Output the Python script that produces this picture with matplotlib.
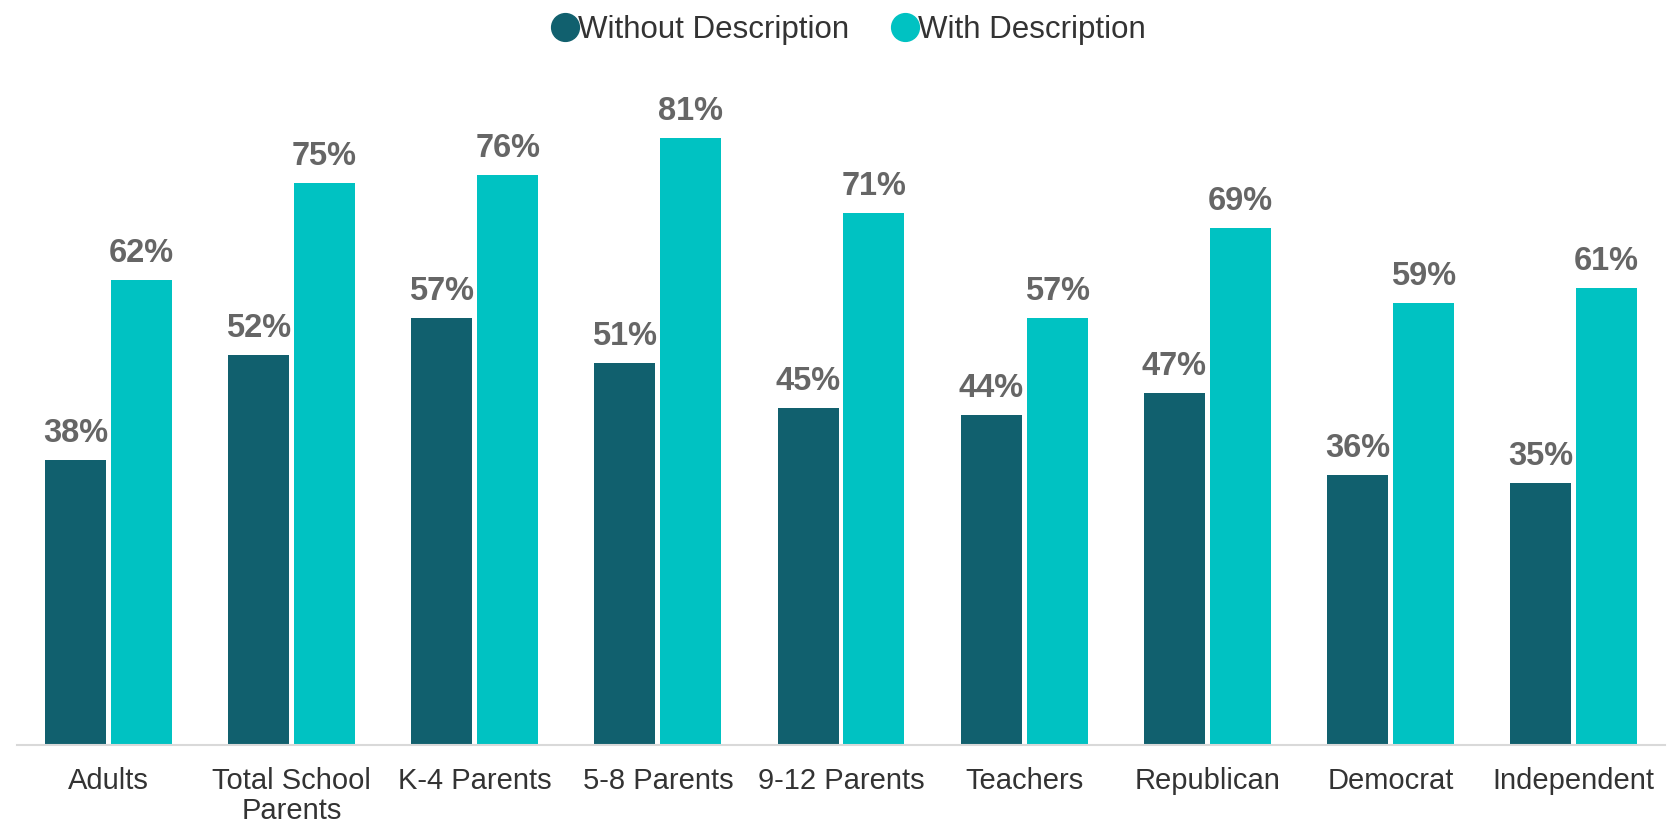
import numpy as np
import matplotlib
matplotlib.use("Agg")
import matplotlib.pyplot as plt
from matplotlib.lines import Line2D

plt.rcParams['font.family'] = ['Liberation Sans', 'DejaVu Sans']

# data
groups = ['Adults', 'Total School\nParents', 'K-4 Parents', '5-8 Parents', '9-12 Parents',
          'Teachers', 'Republican', 'Democrat', 'Independent']
without_desc = [38, 52, 57, 51, 45, 44, 47, 36, 35]
with_desc = [62, 75, 76, 81, 71, 57, 69, 59, 61]
series_names = ['Without Description', 'With Description']

dark = '#11606E'
teal = '#00C2C2'
label_col = '#666666'

fig = plt.figure(figsize=(16.75, 8.26), dpi=100)
ax = fig.add_axes([0.0101, 0.098, 0.9840, 0.817])

x = np.arange(len(groups))
w = 0.333
off = 0.180
b1 = ax.bar(x - off, without_desc, w, color=dark)
b2 = ax.bar(x + off, with_desc, w, color=teal)

# value labels on top of bars
for bars, vals in ((b1, without_desc), (b2, with_desc)):
    for r, v in zip(bars, vals):
        ax.annotate(f'{v}%', (r.get_x() + r.get_width() / 2, v),
                    xytext=(0, 13), textcoords='offset points',
                    ha='center', va='baseline', fontsize=23.5,
                    fontweight='bold', color=label_col)

ax.set_xlim(-0.5, len(groups) - 0.5)
ax.set_ylim(0, 90)
ax.set_xticks(x)
ax.set_xticklabels(groups, fontsize=21, color='#333333', linespacing=1.08)
ax.tick_params(axis='x', length=0, pad=16)
ax.set_yticks([])
for s in ['top', 'right', 'left']:
    ax.spines[s].set_visible(False)
ax.spines['bottom'].set_color('#D9D9D9')
ax.spines['bottom'].set_linewidth(1.5)

handles = [Line2D([], [], marker='o', ls='', markersize=20, color=c) for c in (dark, teal)]
fig.legend(handles, series_names, loc='upper center', bbox_to_anchor=(0.505, 1.016),
           ncol=2, frameon=False, fontsize=22.5, handletextpad=-0.2,
           columnspacing=1.2, labelcolor='#333333', handlelength=1.2)

fig.savefig('out.png', dpi=100)
